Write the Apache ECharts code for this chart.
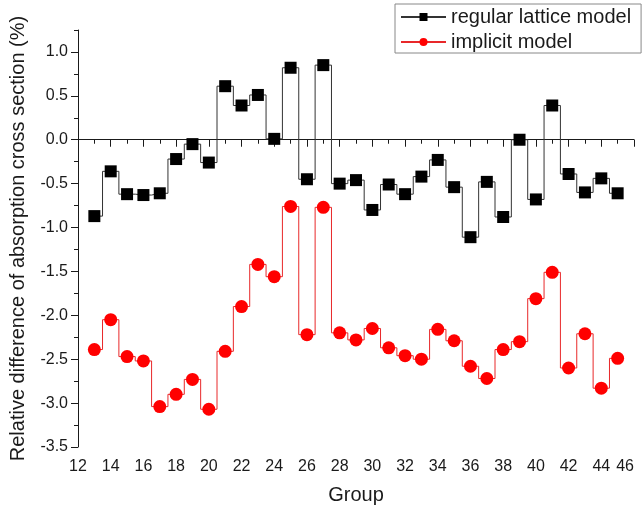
<!DOCTYPE html>
<html>
<head>
<meta charset="utf-8">
<script src="https://cdn.jsdelivr.net/npm/echarts@6/dist/echarts.min.js"></script>
<style>
  html, body { margin: 0; padding: 0; background: #fff; }
  #chart { width: 644px; height: 512px; }
</style>
</head>
<body>
<div id="chart"></div>
<script>
// Energy groups 13..45
const groups = [13,14,15,16,17,18,19,20,21,22,23,24,25,26,27,28,29,30,31,32,33,34,35,36,37,38,39,40,41,42,43,44,45];

// Relative difference (%) for the regular lattice model
const regularLattice = [-0.87,-0.36,-0.62,-0.63,-0.61,-0.22,-0.05,-0.26,0.61,0.39,0.51,0.01,0.82,-0.45,0.85,-0.50,-0.46,
  -0.80,-0.51,-0.62,-0.42,-0.23,-0.54,-1.11,-0.48,-0.88,0.00,-0.68,0.39,-0.39,-0.60,-0.44,-0.61];

// Relative difference (%) for the implicit model
const implicitModel = [-2.39,-2.05,-2.47,-2.52,-3.04,-2.90,-2.73,-3.07,-2.41,-1.90,-1.42,-1.56,-0.76,-2.22,-0.77,-2.20,-2.28,
  -2.15,-2.37,-2.46,-2.50,-2.16,-2.29,-2.58,-2.72,-2.39,-2.30,-1.81,-1.51,-2.60,-2.21,-2.83,-2.49];

const seriesNames = ['regular lattice model', 'implicit model'];

// Major tick labels
const xMajorTicks = [12,14,16,18,20,22,24,26,28,30,32,34,36,38,40,42,44,46];
const yMajorTicks = [-3.5,-3.0,-2.5,-2.0,-1.5,-1.0,-0.5,0.0,0.5,1.0];

const pairs = (ys) => groups.map((g, i) => [g, ys[i]]);

const font = 'Liberation Sans, Arial, sans-serif';
const textColor = '#1a1a1a';
const axisColor = '#1a1a1a';

const chart = echarts.init(document.getElementById('chart'), null, { renderer: 'canvas' });

chart.setOption({
  animation: false,
  backgroundColor: '#fff',
  grid: { left: 78, right: 10, top: 30, bottom: 65, containLabel: false, outerBoundsMode: 'none' },
  legend: {
    left: 395,
    top: 4,
    orient: 'vertical',
    itemWidth: 45,
    itemHeight: 10,
    itemGap: 5,
    padding: [3, 10, 1, 5],
    borderColor: '#888',
    borderWidth: 1,
    textStyle: { fontFamily: font, fontSize: 20, color: textColor },
    data: seriesNames
  },
  xAxis: {
    type: 'value',
    min: 12,
    max: 46,
    interval: 2,
    name: 'Group',
    nameLocation: 'middle',
    nameGap: 38,
    nameTextStyle: { fontFamily: font, fontSize: 20, color: textColor },
    axisLine: { lineStyle: { color: axisColor, width: 1 } },
    axisTick: { length: 7, lineStyle: { color: axisColor } },
    minorTick: { show: true, splitNumber: 2, length: 4, lineStyle: { color: axisColor } },
    splitLine: { show: false },
    axisLabel: {
      fontFamily: font, fontSize: 16, color: textColor, margin: 12,
      customValues: xMajorTicks,
      showMaxLabel: true,
      alignMaxLabel: 'right',
      hideOverlap: false
    }
  },
  yAxis: [
    {
      type: 'value',
      min: -3.5,
      max: 1.25,
      interval: 0.5,
      name: 'Relative difference of absorption cross section (%)',
      nameLocation: 'middle',
      nameGap: 50,
      nameTextStyle: { fontFamily: font, fontSize: 20, color: textColor },
      axisLine: { show: true, lineStyle: { color: axisColor, width: 1 } },
      axisTick: { length: 7, customValues: yMajorTicks, lineStyle: { color: axisColor } },
      splitLine: { show: false },
      axisLabel: {
        fontFamily: font, fontSize: 16, color: textColor, margin: 10,
        customValues: yMajorTicks,
        formatter: (v) => v.toFixed(1)
      }
    },
    {
      // minor ticks every 0.25 along the left axis
      type: 'value',
      position: 'left',
      min: -3.5,
      max: 1.25,
      interval: 0.25,
      axisLine: { show: false },
      axisTick: { show: true, length: 4, lineStyle: { color: axisColor } },
      axisLabel: { show: false },
      splitLine: { show: false }
    }
  ],
  series: [
    {
      name: seriesNames[0],
      type: 'line',
      step: 'middle',
      yAxisIndex: 0,
      data: pairs(regularLattice),
      symbol: 'rect',
      symbolSize: 12,
      itemStyle: { color: '#000' },
      lineStyle: { color: '#333', width: 1 }
    },
    {
      name: seriesNames[1],
      type: 'line',
      step: 'middle',
      yAxisIndex: 0,
      data: pairs(implicitModel),
      symbol: 'circle',
      symbolSize: 13,
      itemStyle: { color: '#f00' },
      lineStyle: { color: '#e8282a', width: 1 }
    }
  ]
});
</script>
</body>
</html>
